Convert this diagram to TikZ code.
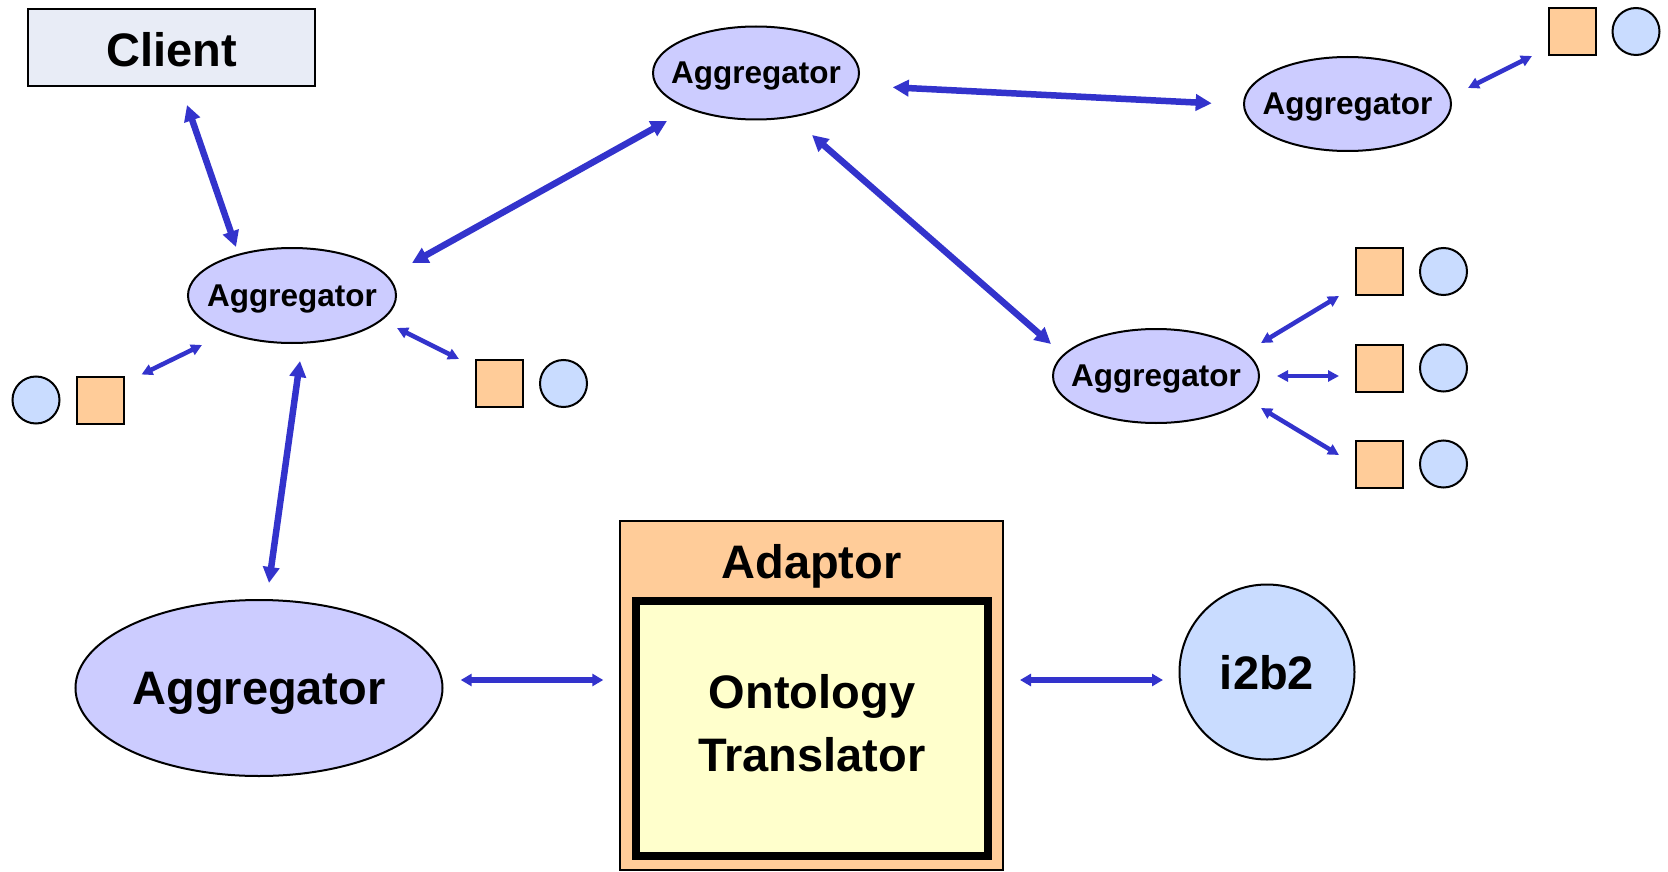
\documentclass[tikz,border=0pt]{standalone}
\usepackage{fontspec}
\setmainfont{Liberation Sans}
\usetikzlibrary{shapes.geometric,arrows.meta,calc}
\definecolor{aggfill}{HTML}{CCCCFF}
\definecolor{sqfill}{HTML}{FFCC99}
\definecolor{cirfill}{HTML}{C9DCFF}
\definecolor{clientfill}{HTML}{E8ECF6}
\definecolor{innerfill}{HTML}{FFFFCC}
\definecolor{arrowblue}{HTML}{3333CC}
\newcommand{\zw}[1]{\makebox[0pt]{#1}}
\tikzset{
  agg/.style={ellipse, draw=black, line width=2pt, fill=aggfill, inner sep=0pt, text depth=0pt,
    font=\fontsize{31.5}{36}\selectfont\bfseries},
  sq/.style={rectangle, draw=black, line width=2pt, fill=sqfill, minimum size=47pt, inner sep=0pt},
  cir/.style={circle, draw=black, line width=2pt, fill=cirfill, minimum size=47pt, inner sep=0pt},
  big/.style={font=\fontsize{47}{56}\selectfont\bfseries},
  thickarrow/.style={draw=arrowblue, line width=6.5pt, {Triangle[length=16pt,width=16pt]}-{Triangle[length=16pt,width=16pt]}},
  medarrow/.style={draw=arrowblue, line width=5.5pt, {Triangle[length=11pt,width=12pt]}-{Triangle[length=11pt,width=12pt]}},
  smallarrow/.style={draw=arrowblue, line width=4.5pt, {Triangle[length=11pt,width=11pt]}-{Triangle[length=11pt,width=11pt]}},
}
\begin{document}
\begin{tikzpicture}[x=1pt,y=-1pt]
\useasboundingbox (0,0) rectangle (1668,872);
% nodes
\node[rectangle, draw=black, line width=2pt, fill=clientfill, minimum width=287pt, minimum height=77pt, inner sep=0pt] (client) at (171.5,47.5) {};
\node[big, anchor=base] (clientlabel) at (171.5,67) {Client};
\node[agg, minimum width=208pt, minimum height=95pt] (agg1) at (292,295.5) {\zw{Aggregator}};
\node[agg, minimum width=206pt, minimum height=93pt] (aggtop) at (756,73) {\zw{Aggregator}};
\node[agg, minimum width=207pt, minimum height=94pt] (aggtr) at (1347.5,104) {\zw{Aggregator}};
\node[agg, minimum width=206pt, minimum height=94pt] (aggr) at (1156,376) {\zw{Aggregator}};
\node[agg, minimum width=367pt, minimum height=176pt, big] (aggbig) at (259,688) {\zw{Aggregator}};
\node[sq] (sqa) at (499.5,383.5) {};
\node[cir] (cira) at (563.5,383.5) {};
\node[sq] (sql) at (100,400) {};
\node[cir] (cirl) at (36,400) {};
\node[sq] (sqtr) at (1572,31.5) {};
\node[cir] (cirtr) at (1636,31.5) {};
\node[sq] (sqr1) at (1379.5,271.5) {};
\node[cir] (cirr1) at (1443.5,271.5) {};
\node[sq] (sqr2) at (1379.5,368) {};
\node[cir] (cirr2) at (1443.5,368) {};
\node[sq] (sqr3) at (1379.5,464) {};
\node[cir] (cirr3) at (1443.5,464) {};
% adaptor
\node[rectangle, draw=black, line width=2pt, fill=sqfill, minimum width=383pt, minimum height=349pt, inner sep=0pt] (adaptor) at (811.5,695.5) {};
\node[rectangle, draw=black, line width=8pt, fill=innerfill, minimum width=352pt, minimum height=255pt, inner sep=0pt] (translator) at (812,728.5) {};
\node[big, anchor=base] (adaptorlabel) at (811.5,578) {Adaptor};
\node[big, anchor=base] (ontology) at (812,708) {Ontology};
\node[big, anchor=base] (translatorlabel) at (812,771.5) {Translator};
\node[circle, draw=black, line width=2pt, fill=cirfill, minimum size=175pt, inner sep=0pt, text depth=0pt, big] (i2b2) at (1267,672) {i2b2};
% connectors
\draw[thickarrow] ($(client)+(15.5,57.5)$) -- ($(agg1)+(-56,-48.5)$);
\draw[thickarrow] ($(agg1)+(120,-32.5)$) -- ($(aggtop)+(-89,48)$);
\draw[thickarrow] ($(aggtop)+(136.7,14.3)$) -- ($(aggtr)+(-135.8,-0.7)$);
\draw[thickarrow] ($(aggtop)+(56,62)$) -- ($(aggr)+(-105,-32)$);
\draw[thickarrow] ($(agg1)+(8,65.5)$) -- ($(aggbig)+(10,-105)$);
\draw[smallarrow] ($(agg1)+(105,32.5)$) -- ($(sqa)+(-40.5,-24.5)$);
\draw[smallarrow] ($(agg1)+(-90,49.5)$) -- ($(sql)+(41.5,-25.5)$);
\draw[smallarrow] ($(aggtr)+(120.5,-16)$) -- ($(sqtr)+(-40,24.5)$);
\draw[smallarrow] ($(aggr)+(105,-33)$) -- ($(sqr1)+(-40.5,24.5)$);
\draw[smallarrow] ($(aggr)+(121,0)$) -- ($(sqr2)+(-40.5,8)$);
\draw[smallarrow] ($(aggr)+(105,32)$) -- ($(sqr3)+(-40.5,-9)$);
\draw[medarrow] ($(aggbig)+(201.7,-8)$) -- ($(adaptor.west)+(-15.7,-15.5)$);
\draw[medarrow] ($(adaptor.east)+(16,-15.5)$) -- ($(i2b2)+(-104,8)$);
\end{tikzpicture}
\end{document}
